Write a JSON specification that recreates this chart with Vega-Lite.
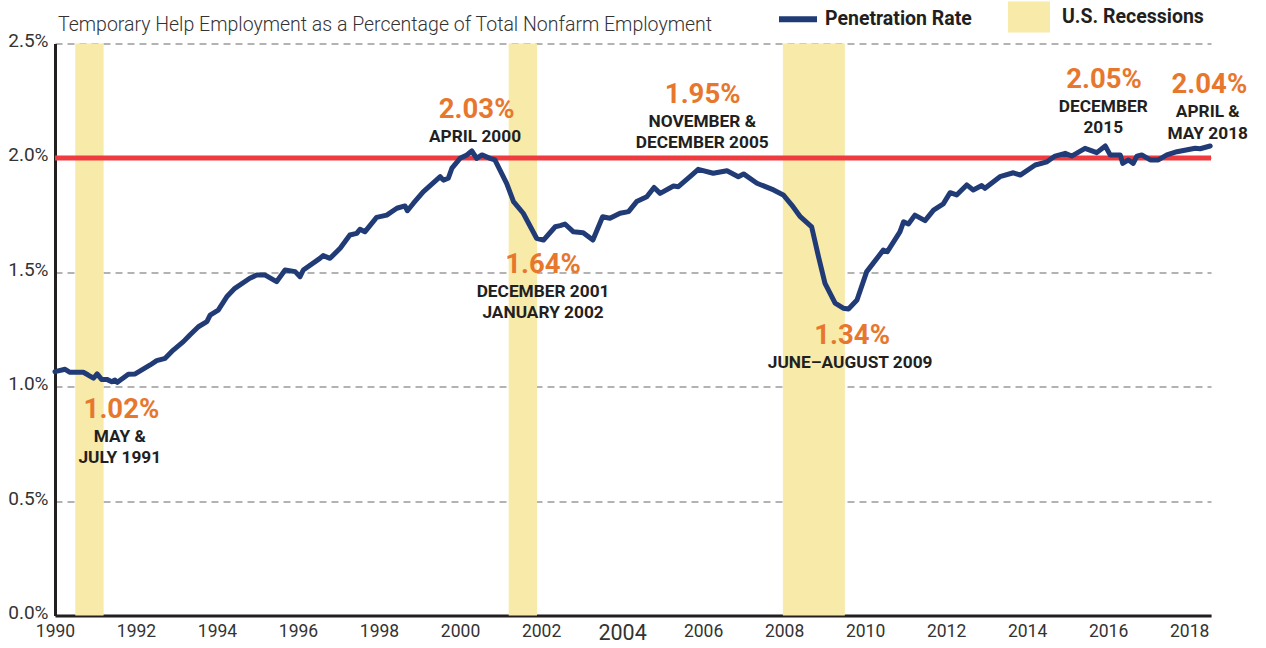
{
  "$schema": "https://vega.github.io/schema/vega-lite/v6.json",
  "autosize": {"type": "none"},
  "width": 1156,
  "height": 572,
  "padding": {"left": 55, "top": 43.5, "right": 55, "bottom": 32.5},
  "background": "white",
  "config": {
    "view": {"stroke": null},
    "font": "Roboto, sans-serif"
  },
  "title": {
    "text": "Temporary Help Employment as a Percentage of Total Nonfarm Employment",
    "anchor": "start",
    "frame": "group",
    "orient": "top",
    "dx": 3,
    "offset": -54.5,
    "baseline": "alphabetic",
    "font": "Roboto, sans-serif",
    "fontSize": 19.5,
    "fontWeight": 300,
    "color": "#333333"
  },
  "datasets": {
    "rate": [
      {"year": 1990.0, "rate": 1.066},
      {"year": 1990.25, "rate": 1.076},
      {"year": 1990.37, "rate": 1.063},
      {"year": 1990.7, "rate": 1.063},
      {"year": 1990.82, "rate": 1.051},
      {"year": 1990.95, "rate": 1.037},
      {"year": 1991.04, "rate": 1.056},
      {"year": 1991.15, "rate": 1.032},
      {"year": 1991.28, "rate": 1.032},
      {"year": 1991.4, "rate": 1.022},
      {"year": 1991.48, "rate": 1.029},
      {"year": 1991.54, "rate": 1.019},
      {"year": 1991.81, "rate": 1.054},
      {"year": 1991.98, "rate": 1.056},
      {"year": 1992.35, "rate": 1.095},
      {"year": 1992.51, "rate": 1.114},
      {"year": 1992.72, "rate": 1.124},
      {"year": 1992.92, "rate": 1.16},
      {"year": 1993.17, "rate": 1.197},
      {"year": 1993.33, "rate": 1.226},
      {"year": 1993.54, "rate": 1.262},
      {"year": 1993.75, "rate": 1.284},
      {"year": 1993.83, "rate": 1.313},
      {"year": 1994.03, "rate": 1.335},
      {"year": 1994.24, "rate": 1.393},
      {"year": 1994.44, "rate": 1.43},
      {"year": 1994.81, "rate": 1.474},
      {"year": 1994.98, "rate": 1.488},
      {"year": 1995.19, "rate": 1.488},
      {"year": 1995.47, "rate": 1.459},
      {"year": 1995.68, "rate": 1.51},
      {"year": 1995.93, "rate": 1.503},
      {"year": 1996.05, "rate": 1.481},
      {"year": 1996.13, "rate": 1.51},
      {"year": 1996.54, "rate": 1.561},
      {"year": 1996.62, "rate": 1.573},
      {"year": 1996.79, "rate": 1.561},
      {"year": 1997.04, "rate": 1.605},
      {"year": 1997.28, "rate": 1.663},
      {"year": 1997.45, "rate": 1.67},
      {"year": 1997.53, "rate": 1.688},
      {"year": 1997.65, "rate": 1.677},
      {"year": 1997.94, "rate": 1.74},
      {"year": 1998.19, "rate": 1.75},
      {"year": 1998.44, "rate": 1.78},
      {"year": 1998.64, "rate": 1.79},
      {"year": 1998.7, "rate": 1.769},
      {"year": 1998.85, "rate": 1.802},
      {"year": 1999.09, "rate": 1.852},
      {"year": 1999.51, "rate": 1.918},
      {"year": 1999.59, "rate": 1.903},
      {"year": 1999.71, "rate": 1.911},
      {"year": 1999.8, "rate": 1.955},
      {"year": 2000.0, "rate": 1.998},
      {"year": 2000.17, "rate": 2.013},
      {"year": 2000.29, "rate": 2.031},
      {"year": 2000.41, "rate": 1.998},
      {"year": 2000.54, "rate": 2.013},
      {"year": 2000.74, "rate": 1.998},
      {"year": 2000.86, "rate": 1.991},
      {"year": 2001.15, "rate": 1.889},
      {"year": 2001.32, "rate": 1.809},
      {"year": 2001.56, "rate": 1.758},
      {"year": 2001.89, "rate": 1.649},
      {"year": 2002.06, "rate": 1.641},
      {"year": 2002.35, "rate": 1.699},
      {"year": 2002.47, "rate": 1.704},
      {"year": 2002.59, "rate": 1.711},
      {"year": 2002.8, "rate": 1.677},
      {"year": 2003.04, "rate": 1.673},
      {"year": 2003.28, "rate": 1.641},
      {"year": 2003.52, "rate": 1.743},
      {"year": 2003.7, "rate": 1.736},
      {"year": 2003.95, "rate": 1.758},
      {"year": 2004.16, "rate": 1.765},
      {"year": 2004.36, "rate": 1.809},
      {"year": 2004.61, "rate": 1.83},
      {"year": 2004.79, "rate": 1.871},
      {"year": 2004.94, "rate": 1.845},
      {"year": 2005.27, "rate": 1.877},
      {"year": 2005.39, "rate": 1.874},
      {"year": 2005.72, "rate": 1.925},
      {"year": 2005.88, "rate": 1.95},
      {"year": 2006.25, "rate": 1.933},
      {"year": 2006.59, "rate": 1.944},
      {"year": 2006.87, "rate": 1.918},
      {"year": 2007.0, "rate": 1.93},
      {"year": 2007.33, "rate": 1.889},
      {"year": 2007.74, "rate": 1.86},
      {"year": 2007.98, "rate": 1.838},
      {"year": 2008.19, "rate": 1.794},
      {"year": 2008.4, "rate": 1.743},
      {"year": 2008.68, "rate": 1.699},
      {"year": 2008.85, "rate": 1.568},
      {"year": 2009.01, "rate": 1.452},
      {"year": 2009.26, "rate": 1.365},
      {"year": 2009.46, "rate": 1.343},
      {"year": 2009.59, "rate": 1.34},
      {"year": 2009.8, "rate": 1.379},
      {"year": 2010.04, "rate": 1.503},
      {"year": 2010.45, "rate": 1.597},
      {"year": 2010.55, "rate": 1.59},
      {"year": 2010.86, "rate": 1.677},
      {"year": 2010.95, "rate": 1.721},
      {"year": 2011.07, "rate": 1.711},
      {"year": 2011.23, "rate": 1.75},
      {"year": 2011.48, "rate": 1.726},
      {"year": 2011.69, "rate": 1.772},
      {"year": 2011.93, "rate": 1.799},
      {"year": 2012.1, "rate": 1.848},
      {"year": 2012.26, "rate": 1.838},
      {"year": 2012.51, "rate": 1.882},
      {"year": 2012.67, "rate": 1.86},
      {"year": 2012.88, "rate": 1.879},
      {"year": 2012.96, "rate": 1.867},
      {"year": 2013.33, "rate": 1.918},
      {"year": 2013.66, "rate": 1.935},
      {"year": 2013.83, "rate": 1.925},
      {"year": 2014.2, "rate": 1.969},
      {"year": 2014.49, "rate": 1.983},
      {"year": 2014.69, "rate": 2.008},
      {"year": 2014.94, "rate": 2.02},
      {"year": 2015.1, "rate": 2.008},
      {"year": 2015.43, "rate": 2.042},
      {"year": 2015.72, "rate": 2.023},
      {"year": 2015.93, "rate": 2.052},
      {"year": 2016.05, "rate": 2.013},
      {"year": 2016.3, "rate": 2.013},
      {"year": 2016.36, "rate": 1.976},
      {"year": 2016.5, "rate": 1.991},
      {"year": 2016.62, "rate": 1.976},
      {"year": 2016.71, "rate": 2.008},
      {"year": 2016.83, "rate": 2.013},
      {"year": 2017.04, "rate": 1.991},
      {"year": 2017.24, "rate": 1.991},
      {"year": 2017.45, "rate": 2.013},
      {"year": 2017.7, "rate": 2.027},
      {"year": 2018.02, "rate": 2.038},
      {"year": 2018.15, "rate": 2.042},
      {"year": 2018.27, "rate": 2.04},
      {"year": 2018.52, "rate": 2.052}
    ],
    "recessions": [
      {"start": 1990.5, "end": 1991.2},
      {"start": 2001.2, "end": 2001.9},
      {"start": 2007.97, "end": 2009.5}
    ],
    "reference": [
      {"level": 2.0}
    ],
    "values": [
      {"year": 1991.64, "rate": 0.862, "label": "1.02%"},
      {"year": 2000.41, "rate": 2.174, "label": "2.03%"},
      {"year": 2002.05, "rate": 1.496, "label": "1.64%"},
      {"year": 2005.99, "rate": 2.239, "label": "1.95%"},
      {"year": 2009.68, "rate": 1.187, "label": "1.34%"},
      {"year": 2015.9, "rate": 2.304, "label": "2.05%"},
      {"year": 2018.5, "rate": 2.282, "label": "2.04%"}
    ],
    "dates": [
      {"year": 1991.6, "rate": 0.76, "label": ["MAY &", "JULY 1991"]},
      {"year": 2000.37, "rate": 2.071, "label": ["APRIL 2000"]},
      {"year": 2002.05, "rate": 1.393, "label": ["DECEMBER 2001", "JANUARY 2002"]},
      {"year": 2005.98, "rate": 2.136, "label": ["NOVEMBER &", "DECEMBER 2005"]},
      {"year": 2009.63, "rate": 1.08, "label": ["JUNE–AUGUST 2009"]},
      {"year": 2015.88, "rate": 2.202, "label": ["DECEMBER", "2015"]},
      {"year": 2018.46, "rate": 2.177, "label": ["APRIL &", "MAY 2018"]}
    ]
  },
  "layer": [
    {
      "data": {"name": "recessions"},
      "mark": {"type": "rect"},
      "encoding": {
        "x": {
          "field": "start",
          "type": "quantitative",
          "scale": {"domain": [1990, 2018.54], "nice": false, "zero": false},
          "axis": {
            "values": [1990, 1992, 1994, 1996, 1998, 2000, 2002, 2004, 2006, 2008, 2010, 2012, 2014, 2016, 2018],
            "format": "d",
            "title": null,
            "ticks": false,
            "grid": false,
            "domain": true,
            "domainColor": "#231f20",
            "domainWidth": 3,
            "labelFont": "Roboto, sans-serif",
            "labelFontSize": {"condition": {"test": "datum.value == 2004", "value": 21.5}, "value": 17.5},
            "labelColor": "#333333",
            "labelPadding": 7,
            "labelFlush": false,
            "labelOverlap": false,
            "labelBound": false
          }
        },
        "x2": {"field": "end"},
        "fill": {
          "datum": "U.S. Recessions",
          "type": "nominal",
          "scale": {"range": ["#f8eaa9"]},
          "legend": {
            "title": null,
            "orient": "none",
            "legendX": 953,
            "legendY": -47.5,
            "padding": 0,
            "symbolType": "M-1,-0.74H1V0.74H-1Z",
            "symbolSize": 1764,
            "symbolStrokeWidth": 0,
            "symbolOpacity": 1,
            "labelOffset": 12,
            "labelFont": "Roboto, sans-serif",
            "labelFontSize": 19.5,
            "labelFontWeight": "bold",
            "labelColor": "#231f20",
            "labelLimit": 400
          }
        }
      }
    },
    {
      "data": {"name": "reference"},
      "mark": {"type": "rule", "color": "#ef3a3f", "strokeWidth": 5},
      "encoding": {
        "y": {
          "field": "level",
          "type": "quantitative",
          "scale": {"domain": [0, 2.5], "nice": false},
          "axis": {
            "values": [0, 0.5, 1, 1.5, 2, 2.5],
            "labelExpr": "format(datum.value, '.1f') + '%'",
            "title": null,
            "ticks": false,
            "grid": true,
            "gridDash": [7, 5],
            "gridColor": "#9a9a9a",
            "gridWidth": 1.5,
            "domain": true,
            "domainColor": "#231f20",
            "domainWidth": 3,
            "labelFont": "Roboto, sans-serif",
            "labelFontSize": 19,
            "labelColor": "#333333",
            "labelPadding": 7,
            "labelOffset": -3,
            "labelFlush": false,
            "labelOverlap": false,
            "labelBound": false
          }
        }
      }
    },
    {
      "data": {"name": "rate"},
      "mark": {"type": "line", "strokeWidth": 5, "strokeJoin": "round", "strokeCap": "round"},
      "encoding": {
        "x": {"field": "year", "type": "quantitative"},
        "y": {"field": "rate", "type": "quantitative"},
        "stroke": {
          "datum": "Penetration Rate",
          "type": "nominal",
          "scale": {"range": ["#213b77"]},
          "legend": {
            "title": null,
            "orient": "none",
            "legendX": 721,
            "legendY": -46.3,
            "padding": 0,
            "symbolType": "stroke",
            "symbolSize": 1444,
            "symbolStrokeWidth": 6,
            "labelOffset": 5,
            "labelFont": "Roboto, sans-serif",
            "labelFontSize": 19.5,
            "labelFontWeight": "bold",
            "labelColor": "#231f20",
            "labelLimit": 400
          }
        }
      }
    },
    {
      "data": {"name": "values"},
      "mark": {
        "type": "text",
        "align": "center",
        "baseline": "alphabetic",
        "font": "Roboto, sans-serif",
        "fontSize": 27.5,
        "fontWeight": "bold",
        "color": "#e8772e"
      },
      "encoding": {
        "x": {"field": "year", "type": "quantitative"},
        "y": {"field": "rate", "type": "quantitative"},
        "text": {"field": "label"}
      }
    },
    {
      "data": {"name": "dates"},
      "mark": {
        "type": "text",
        "align": "center",
        "baseline": "alphabetic",
        "font": "Roboto, sans-serif",
        "fontSize": 17.3,
        "fontWeight": "bold",
        "lineHeight": 21.7,
        "color": "#231f20"
      },
      "encoding": {
        "x": {"field": "year", "type": "quantitative"},
        "y": {"field": "rate", "type": "quantitative"},
        "text": {"field": "label"}
      }
    }
  ]
}
